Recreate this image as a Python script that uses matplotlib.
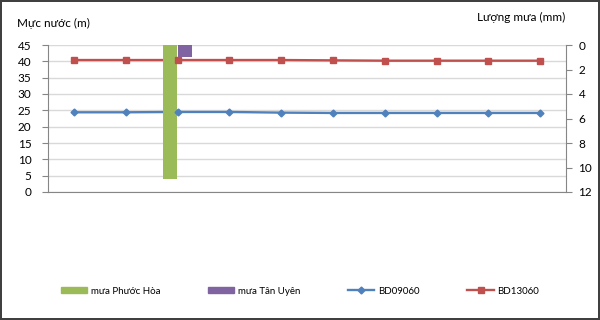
import matplotlib
matplotlib.use("Agg")
import matplotlib.pyplot as plt
from matplotlib.lines import Line2D
from matplotlib.patches import Patch
import numpy as np

plt.rcParams['font.family'] = ['Lato', 'DejaVu Sans']

categories = list(range(1, 11))
bd09060 = [24.4, 24.4, 24.5, 24.5, 24.3, 24.2, 24.2, 24.2, 24.2, 24.2]
bd13060 = [40.4, 40.4, 40.4, 40.4, 40.4, 40.3, 40.2, 40.2, 40.2, 40.2]
rain_phuoc_hoa = [0, 0, 10.9, 0, 0, 0, 0, 0, 0, 0]
rain_tan_uyen = [0, 0, 1.0, 0, 0, 0, 0, 0, 0, 0]
left_ticks = [0, 5, 10, 15, 20, 25, 30, 35, 40, 45]
right_ticks = [0, 2, 4, 6, 8, 10, 12]

c_green = '#9BBB59'
c_purple = '#8064A2'
c_blue = '#4F81BD'
c_red = '#C0504D'
spine_c = '#868686'

fig = plt.figure(figsize=(6, 3.2), dpi=100)
fig.patch.set_edgecolor('#404040')
fig.patch.set_linewidth(1.5)

ax = fig.add_axes([48/600, 1-192/320, (566-48)/600, (192-45)/320])
x = np.arange(len(categories))
ax.set_xlim(-0.5, len(categories)-0.5)
ax.set_ylim(0, 45)
ax.set_yticks(left_ticks)
ax.yaxis.grid(True, color='#D9D9D9', linewidth=1.0)
ax.set_axisbelow(True)
ax.set_xticks([])
for s in ['top', 'right']:
    ax.spines[s].set_visible(False)
for s in ['left', 'bottom']:
    ax.spines[s].set_color(spine_c)
ax.tick_params(axis='y', colors=spine_c, labelcolor='black', labelsize=8.5, length=4, pad=8)

ax.plot(x, bd09060, color=c_blue, linewidth=1.7, zorder=2)
ax.plot(x, bd13060, color=c_red, linewidth=1.7, zorder=2)

ax2 = ax.twinx()
ax2.set_ylim(12, 0)
ax2.set_yticks(right_ticks)
for s in ['top', 'left', 'bottom']:
    ax2.spines[s].set_visible(False)
ax2.spines['right'].set_color(spine_c)
ax2.tick_params(axis='y', colors=spine_c, labelcolor='black', labelsize=8.5, length=4, pad=5)
w = 0.28
ax2.bar(x - w/2, rain_phuoc_hoa, width=w, color=c_green, linewidth=0, zorder=3)
ax2.bar(x + w/2, rain_tan_uyen, width=w, color=c_purple, linewidth=0, zorder=3)

# markers on top
ax3 = ax.twinx()
ax3.set_ylim(0, 45)
ax3.axis('off')
ax3.plot(x, bd09060, linestyle='none', marker='D', markersize=3.5, color=c_blue, zorder=4)
ax3.plot(x, bd13060, linestyle='none', marker='s', markersize=5, color=c_red, zorder=4)

fig.text(17/600, 1-23/320, 'Mực nước (m)', fontsize=8.5, va='center', ha='left')
fig.text(565/600, 1-17/320, 'Lượng mưa (mm)', fontsize=8.5, va='center', ha='right')

handles = [Patch(facecolor=c_green, edgecolor=c_green),
           Patch(facecolor=c_purple, edgecolor=c_purple),
           Line2D([], [], color=c_blue, linewidth=1.7, marker='D', markersize=3.5),
           Line2D([], [], color=c_red, linewidth=1.7, marker='s', markersize=5)]
labels = ['mưa Phước Hòa', 'mưa Tân Uyên', 'BD09060', 'BD13060']
leg = fig.legend(handles, labels, loc='center', bbox_to_anchor=(0.5, 1-291/320), ncol=4,
                 frameon=False, fontsize=7, handlelength=2.7, handleheight=0.5,
                 handletextpad=0.4, columnspacing=4.9)

fig.savefig('out.png', dpi=100)
